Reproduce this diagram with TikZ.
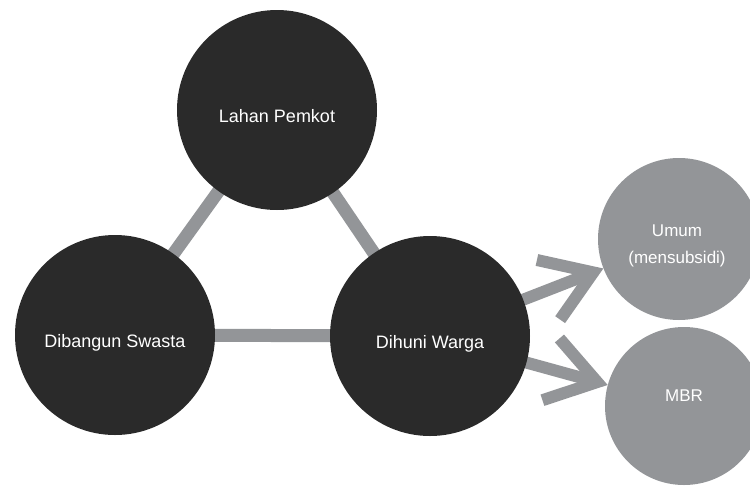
\documentclass[tikz,border=0pt]{standalone}
\usepackage{fontspec}
\setmainfont{Liberation Sans}
\usetikzlibrary{arrows.meta,backgrounds}
\definecolor{darkc}{HTML}{2A2A2A}
\definecolor{grayc}{HTML}{939598}
\tikzset{
  darkball/.style={circle, fill=darkc, minimum size=200pt, inner sep=0pt},
  grayball/.style={circle, fill=grayc, inner sep=0pt},
  darklbl/.style={text=white, font=\fontsize{18}{20}\selectfont, text height=13pt, text depth=4pt, inner sep=0pt},
  graylbl/.style={text=white, font=\fontsize{17}{27}\selectfont, inner sep=0pt, align=center},
  link/.style={draw=grayc, line width=13pt},
  flow/.style={draw=grayc, line width=12pt, -{Straight Barb[sharp, length=48pt, width=64pt]}}
}
\begin{document}
\begin{tikzpicture}[x=1pt, y=-1pt]
\path[use as bounding box, clip] (0,0) rectangle (750,485);
\node[darkball, label={[darklbl, yshift=-8pt]center:Lahan Pemkot}] (L) at (277,110) {};
\node[darkball, label={[darklbl, yshift=-8pt]center:Dibangun Swasta}] (B) at (115,335) {};
\node[darkball, label={[darklbl, yshift=-8pt]center:Dihuni Warga}] (D) at (430,336) {};
\node[grayball, minimum size=162pt, label={[graylbl, yshift=-7.4pt, xshift=-2pt]center:Umum\\(mensubsidi)}] (U) at (679,239) {};
\node[grayball, minimum size=158pt, label={[darklbl, font=\fontsize{17}{20}\selectfont, yshift=9.4pt]center:MBR}] (M) at (684,406) {};
\begin{scope}[on background layer]
\draw[link] (L.center) -- (B.center);
\draw[link] (L.center) -- (D.center);
\draw[link] (B.center) -- (D.center);
\draw[flow] (D.center) -- (U);
\draw[flow] (D.center) -- (M);
\end{scope}
\end{tikzpicture}
\end{document}
